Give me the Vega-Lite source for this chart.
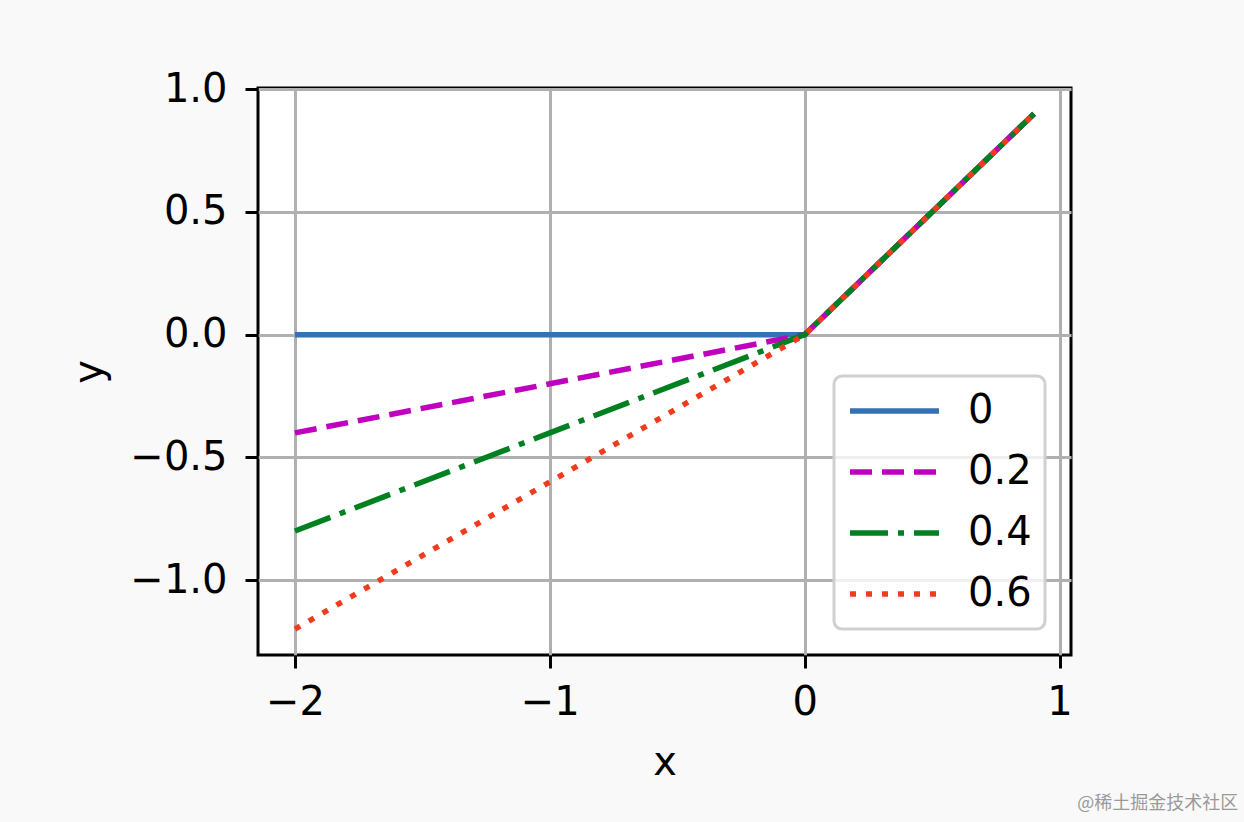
{
  "$schema": "https://vega.github.io/schema/vega-lite/v6.json",
  "width": 813,
  "height": 567,
  "autosize": "none",
  "padding": {"left": 258, "top": 88, "right": 173, "bottom": 167},
  "background": "#f9f9f9",
  "title": {
    "text": "@稀土掘金技术社区",
    "orient": "bottom",
    "anchor": "end",
    "font": "Noto Sans CJK SC",
    "fontSize": 18,
    "fontWeight": "normal",
    "color": "#9a9a9a",
    "dx": 166,
    "offset": 13
  },
  "config": {
    "view": {"fill": "white", "stroke": "black", "strokeWidth": 3},
    "font": "DejaVu Sans",
    "axis": {
      "domain": false,
      "labelFont": "DejaVu Sans",
      "labelFontSize": 40,
      "labelColor": "black",
      "labelFlush": false,
      "labelOverlap": false,
      "tickColor": "black",
      "tickSize": 13,
      "tickWidth": 3,
      "gridColor": "#b0b0b0",
      "gridWidth": 3,
      "gridOpacity": 1,
      "titleFont": "DejaVu Sans",
      "titleFontSize": 40,
      "titleFontWeight": "normal",
      "titleColor": "black"
    },
    "legend": {
      "labelFont": "DejaVu Sans",
      "labelFontSize": 40,
      "labelColor": "black"
    }
  },
  "data": {
    "values": [
      {"alpha": "0", "x": -2, "y": 0},
      {"alpha": "0", "x": -1, "y": 0},
      {"alpha": "0", "x": 0, "y": 0},
      {"alpha": "0", "x": 0.5, "y": 0.5},
      {"alpha": "0", "x": 0.9, "y": 0.9},
      {"alpha": "0.2", "x": -2, "y": -0.4},
      {"alpha": "0.2", "x": -1, "y": -0.2},
      {"alpha": "0.2", "x": 0, "y": 0},
      {"alpha": "0.2", "x": 0.5, "y": 0.5},
      {"alpha": "0.2", "x": 0.9, "y": 0.9},
      {"alpha": "0.4", "x": -2, "y": -0.8},
      {"alpha": "0.4", "x": -1, "y": -0.4},
      {"alpha": "0.4", "x": 0, "y": 0},
      {"alpha": "0.4", "x": 0.5, "y": 0.5},
      {"alpha": "0.4", "x": 0.9, "y": 0.9},
      {"alpha": "0.6", "x": -2, "y": -1.2},
      {"alpha": "0.6", "x": -1, "y": -0.6},
      {"alpha": "0.6", "x": 0, "y": 0},
      {"alpha": "0.6", "x": 0.5, "y": 0.5},
      {"alpha": "0.6", "x": 0.9, "y": 0.9}
    ]
  },
  "mark": {"type": "line", "strokeWidth": 5.5, "strokeCap": "butt"},
  "encoding": {
    "x": {
      "field": "x",
      "type": "quantitative",
      "scale": {"domain": [-2.145, 1.045], "nice": false, "zero": false},
      "axis": {"values": [-2, -1, 0, 1], "format": "d", "title": "x", "labelPadding": 14, "titlePadding": 20}
    },
    "y": {
      "field": "y",
      "type": "quantitative",
      "scale": {"domain": [-1.305, 1.005], "nice": false, "zero": false},
      "axis": {"values": [-1, -0.5, 0, 0.5, 1], "format": ".1f", "title": "y", "labelPadding": 18, "titlePadding": 20}
    },
    "color": {
      "field": "alpha",
      "type": "nominal",
      "scale": {"domain": ["0", "0.2", "0.4", "0.6"], "range": ["#3571b3", "#bf00bf", "#008020", "#f03c1e"]},
      "legend": {
        "title": null,
        "orient": "none",
        "legendX": 576,
        "legendY": 288,
        "fillColor": "rgba(255,255,255,0.8)",
        "strokeColor": "#d0d0d0",
        "cornerRadius": 8,
        "padding": 13,
        "symbolType": "stroke",
        "symbolSize": 7921,
        "symbolStrokeWidth": 5.5,
        "labelOffset": 26,
        "clipHeight": 44,
        "rowPadding": 17,
        "encode": {"legend": {"update": {"strokeWidth": {"value": 3}}}}
      }
    },
    "strokeDash": {
      "field": "alpha",
      "type": "nominal",
      "scale": {"domain": ["0", "0.2", "0.4", "0.6"], "range": [[1, 0], [22, 10], [38, 10, 6, 10], [6, 10]]},
      "legend": {
        "title": null,
        "orient": "none",
        "legendX": 576,
        "legendY": 288,
        "fillColor": "rgba(255,255,255,0.8)",
        "strokeColor": "#d0d0d0",
        "cornerRadius": 8,
        "padding": 13,
        "symbolType": "stroke",
        "symbolSize": 7921,
        "symbolStrokeWidth": 5.5,
        "labelOffset": 26,
        "clipHeight": 44,
        "rowPadding": 17,
        "encode": {"legend": {"update": {"strokeWidth": {"value": 3}}}}
      }
    }
  }
}
